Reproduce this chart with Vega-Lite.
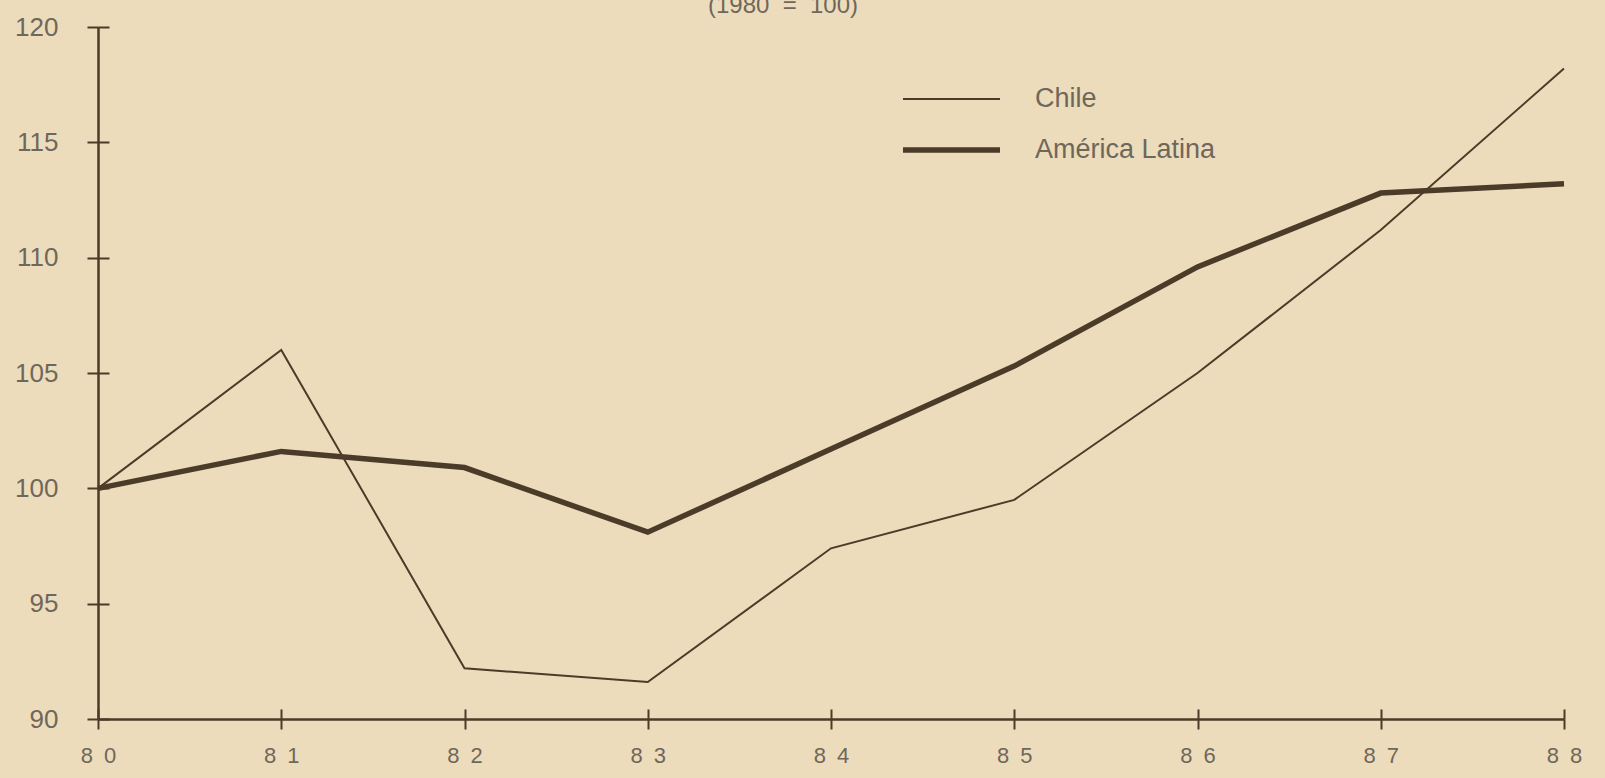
{
  "$schema": "https://vega.github.io/schema/vega-lite/v6.json",
  "autosize": "none",
  "width": 1466,
  "height": 692,
  "padding": {"left": 98, "top": 27, "right": 41, "bottom": 59},
  "background": "#ecdcbc",
  "title": {
    "text": "(1980\u00a0\u00a0=\u00a0\u00a0100)",
    "anchor": "middle",
    "dx": -48,
    "offset": 0,
    "dy": 28,
    "baseline": "bottom",
    "font": "Liberation Sans",
    "fontSize": 24,
    "fontWeight": "normal",
    "color": "#6f675a"
  },
  "config": {
    "view": {"stroke": null},
    "axis": {"grid": false}
  },
  "data": {
    "values": [
      {"year": 80, "series": "Chile", "value": 100.0},
      {"year": 81, "series": "Chile", "value": 106.0},
      {"year": 82, "series": "Chile", "value": 92.2},
      {"year": 83, "series": "Chile", "value": 91.6},
      {"year": 84, "series": "Chile", "value": 97.4},
      {"year": 85, "series": "Chile", "value": 99.5},
      {"year": 86, "series": "Chile", "value": 105.0},
      {"year": 87, "series": "Chile", "value": 111.2},
      {"year": 88, "series": "Chile", "value": 118.2},
      {"year": 80, "series": "América Latina", "value": 100.0},
      {"year": 81, "series": "América Latina", "value": 101.6},
      {"year": 82, "series": "América Latina", "value": 100.9},
      {"year": 83, "series": "América Latina", "value": 98.1},
      {"year": 84, "series": "América Latina", "value": 101.7},
      {"year": 85, "series": "América Latina", "value": 105.3},
      {"year": 86, "series": "América Latina", "value": 109.6},
      {"year": 87, "series": "América Latina", "value": 112.8},
      {"year": 88, "series": "América Latina", "value": 113.2}
    ]
  },
  "layer": [
    {
      "mark": {"type": "line", "color": "#4b3b29", "strokeJoin": "miter", "strokeCap": "butt"},
      "encoding": {
        "x": {
          "field": "year", "type": "quantitative",
          "scale": {"domain": [80, 88], "nice": false, "zero": false},
          "axis": {
            "title": null,
            "values": [80, 81, 82, 83, 84, 85, 86, 87, 88],
            "labelExpr": "substring(datum.label,0,1) + '\u2002' + substring(datum.label,1,2)",
            "labelFont": "Liberation Sans",
            "labelFontSize": 22,
            "labelColor": "#6f675a",
            "labelPadding": 16,
            "labelFlush": false,
            "labelOverlap": false,
            "domainColor": "#4b3b29",
            "domainWidth": 2.5,
            "tickColor": "#4b3b29",
            "tickWidth": 2,
            "tickSize": 10
          }
        },
        "y": {
          "field": "value", "type": "quantitative",
          "scale": {"domain": [90, 120], "nice": false, "zero": false},
          "axis": {
            "title": null,
            "values": [90, 95, 100, 105, 110, 115, 120],
            "labelFont": "Liberation Sans",
            "labelFontSize": 26,
            "labelColor": "#6f675a",
            "labelPadding": 29,
            "labelFlush": false,
            "labelOverlap": false,
            "domainColor": "#4b3b29",
            "domainWidth": 2.5,
            "tickColor": "#4b3b29",
            "tickWidth": 2,
            "tickSize": 11
          }
        },
        "strokeWidth": {
          "field": "series", "type": "ordinal",
          "sort": ["Chile", "América Latina"],
          "scale": {"domain": ["Chile", "América Latina"], "range": [2, 5.5]},
          "legend": {
            "title": null,
            "orient": "none",
            "legendX": 802,
            "legendY": 57,
            "symbolType": "stroke",
            "symbolSize": 9409,
            "symbolStrokeColor": "#4b3b29",
            "labelFont": "Liberation Sans",
            "labelFontSize": 27,
            "labelColor": "#6f675a",
            "labelOffset": 32,
            "labelLimit": 500,
            "clipHeight": 30,
            "rowPadding": 21
          }
        }
      }
    },
    {
      "mark": {"type": "line", "opacity": 0},
      "encoding": {
        "x": {
          "field": "year", "type": "quantitative",
          "axis": {
            "orient": "bottom",
            "title": null,
            "values": [80, 81, 82, 83, 84, 85, 86, 87, 88],
            "labels": false,
            "domain": false,
            "tickColor": "#4b3b29",
            "tickWidth": 2,
            "tickSize": -10
          }
        },
        "y": {
          "field": "value", "type": "quantitative",
          "axis": {
            "orient": "left",
            "title": null,
            "values": [90, 95, 100, 105, 110, 115, 120],
            "labels": false,
            "domain": false,
            "tickColor": "#4b3b29",
            "tickWidth": 2,
            "tickSize": -11
          }
        },
        "detail": {"field": "series", "type": "nominal"}
      }
    }
  ],
  "resolve": {"axis": {"x": "independent", "y": "independent"}}
}
